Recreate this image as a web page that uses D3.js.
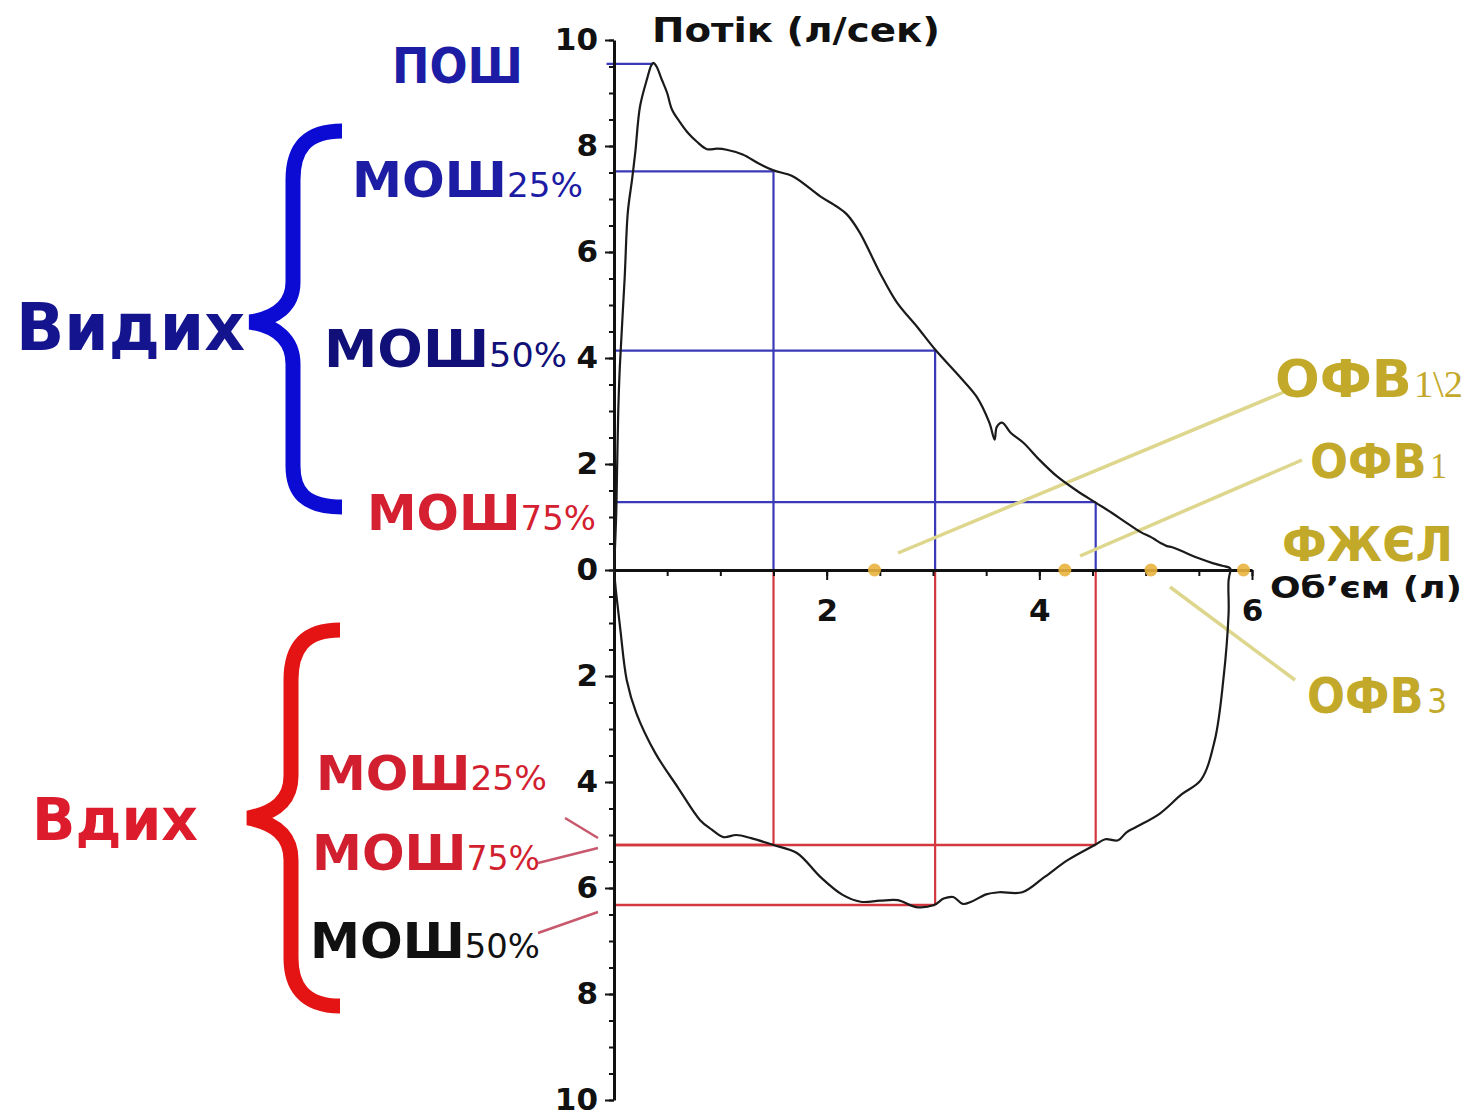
<!DOCTYPE html>
<html>
<head>
<meta charset="utf-8">
<script src="https://cdn.jsdelivr.net/npm/d3@7"></script>
<style>
body { margin: 0; background: #fff; }
svg text { font-family: "DejaVu Sans", Verdana, sans-serif; }
</style>
</head>
<body>
<div class="chart"></div>
<script>
var w = 1470;
var h = 1118;

// expiration (flow > 0), volume in l, flow in l/s
var expVolume = [0, 0.02, 0.03, 0.04, 0.055, 0.1, 0.13, 0.17, 0.2, 0.245, 0.31, 0.35, 0.37, 0.4, 0.45, 0.5, 0.545, 0.62, 0.69, 0.78, 0.875, 0.97, 1.06, 1.21, 1.37, 1.5, 1.68, 1.94, 2.1, 2.19, 2.31, 2.5, 2.66, 2.85, 3.02, 3.25, 3.41, 3.53, 3.58, 3.6, 3.65, 3.73, 3.85, 4.0, 4.17, 4.35, 4.53, 4.68, 4.82, 4.95, 5.05, 5.1, 5.14, 5.2, 5.25, 5.38, 5.5, 5.63, 5.72, 5.79, 5.8];
var expFlow   = [0, 1.0, 2.0, 3.0, 3.84, 5.5, 6.75, 7.37, 7.88, 8.75, 9.26, 9.52, 9.57, 9.5, 9.25, 9.0, 8.69, 8.45, 8.26, 8.08, 7.94, 7.95, 7.93, 7.84, 7.66, 7.54, 7.43, 7.05, 6.85, 6.71, 6.37, 5.61, 5.05, 4.59, 4.16, 3.65, 3.27, 2.78, 2.46, 2.7, 2.78, 2.59, 2.4, 2.08, 1.76, 1.5, 1.27, 1.08, 0.89, 0.72, 0.62, 0.56, 0.51, 0.45, 0.43, 0.32, 0.22, 0.13, 0.08, 0.04, 0];

// inspiration (flow < 0)
var inspVolume = [0, 0.02, 0.06, 0.12, 0.21, 0.39, 0.6, 0.81, 0.92, 1.03, 1.15, 1.29, 1.5, 1.72, 1.94, 2.15, 2.32, 2.5, 2.67, 2.84, 3.01, 3.1, 3.19, 3.28, 3.36, 3.5, 3.62, 3.84, 4.05, 4.27, 4.52, 4.62, 4.74, 4.82, 4.91, 5.13, 5.34, 5.52, 5.65, 5.73, 5.78, 5.78, 5.8];
var inspFlow   = [0, -0.43, -1.13, -2.08, -2.7, -3.46, -4.1, -4.72, -4.9, -5.04, -5.0, -5.06, -5.19, -5.34, -5.79, -6.13, -6.26, -6.24, -6.23, -6.36, -6.32, -6.2, -6.17, -6.3, -6.26, -6.12, -6.08, -6.08, -5.79, -5.47, -5.19, -5.08, -5.1, -4.95, -4.85, -4.6, -4.23, -3.96, -3.21, -2.08, -0.81, -0.19, 0];

// MOШ 25 / 50 / 75 %
var mefVolume = [1.5, 3.02, 4.53];
var mefFlow = [7.52, 4.14, 1.28];
var mifFlow = [-5.19, -6.32, -5.19];
var pefVolume = 0.37;
var pefFlow = 9.55;

// ОФВ1\2, ОФВ1, ОФВ3, ФЖЄЛ points on volume axis
var markVolume = [2.45, 4.24, 5.05, 5.92];

var yMajor = [-10, -8, -6, -4, -2, 0, 2, 4, 6, 8, 10];
var xMajor = [2, 4, 6];

var x = d3.scaleLinear().domain([0, 6]).range([614, 1252]);
var y = d3.scaleLinear().domain([10, -10]).range([40, 1100]);

var svg = d3.select(".chart")
            .append("svg")
            .attr("width", w)
            .attr("height", h);

var blue = "#3a3ab8";
var red = "#d4383e";
var olive = "#c3a92a";

// parts: [text, size, weight, family, dx]
function label(tx, ty, parts, width, color) {
    var t = svg.append("text")
        .attr("x", tx)
        .attr("y", ty)
        .attr("fill", color);
    parts.forEach(function(p) {
        var s = t.append("tspan")
            .style("font-size", p[1] + "px")
            .style("font-weight", p[2] || "bold")
            .text(p[0]);
        if (p[3]) s.style("font-family", p[3]);
        if (p[4]) s.attr("dx", p[4]);
    });
    if (width) t.attr("textLength", width).attr("lengthAdjust", "spacingAndGlyphs");
    return t;
}

// guide lines (blue = expiration, red = inspiration)
mefVolume.forEach(function(v, i) {
    svg.append("line")
        .attr("x1", x(0)).attr("x2", x(v))
        .attr("y1", y(mefFlow[i])).attr("y2", y(mefFlow[i]))
        .attr("stroke", blue).attr("stroke-width", 2.2);
    svg.append("line")
        .attr("x1", x(v)).attr("x2", x(v))
        .attr("y1", y(mefFlow[i])).attr("y2", y(0))
        .attr("stroke", blue).attr("stroke-width", 2.2);
    svg.append("line")
        .attr("x1", x(v)).attr("x2", x(v))
        .attr("y1", y(0)).attr("y2", y(mifFlow[i]))
        .attr("stroke", red).attr("stroke-width", 2.2);
    svg.append("line")
        .attr("x1", x(0)).attr("x2", x(v))
        .attr("y1", y(mifFlow[i])).attr("y2", y(mifFlow[i]))
        .attr("stroke", red).attr("stroke-width", 2.6);
});
svg.append("line")
    .attr("x1", x(-0.07)).attr("x2", x(pefVolume))
    .attr("y1", y(pefFlow)).attr("y2", y(pefFlow))
    .attr("stroke", blue).attr("stroke-width", 2.2);

// leader lines for right labels
var leaders = [[898, 553, 1284, 392], [1080, 556, 1302, 460], [1170, 587, 1295, 680]];
leaders.forEach(function(d) {
    svg.append("line")
        .attr("x1", d[0]).attr("y1", d[1]).attr("x2", d[2]).attr("y2", d[3])
        .attr("stroke", "#ddd68c").attr("stroke-width", 3.5);
});
// pink leaders for inspiratory labels
var pinkLeaders = [[565, 818, 598, 838], [538, 863, 598, 848], [538, 933, 598, 912]];
pinkLeaders.forEach(function(d) {
    svg.append("line")
        .attr("x1", d[0]).attr("y1", d[1]).attr("x2", d[2]).attr("y2", d[3])
        .attr("stroke", "#c8586c").attr("stroke-width", 2.5);
});

// axes
var yMinor = d3.axisLeft(y).tickValues(d3.range(-10, 10.01, 0.5)).tickSize(5).tickFormat("").tickSizeOuter(0);
var yAxis = d3.axisLeft(y).tickValues(yMajor).tickSize(9).tickPadding(7).tickSizeOuter(0)
              .tickFormat(function(d) { return Math.abs(d); });
var xMinor = d3.axisBottom(x).tickValues(d3.range(0.5, 6.01, 0.5)).tickSize(6).tickFormat("").tickSizeOuter(0);
var xAxis = d3.axisBottom(x).tickValues(xMajor).tickSize(10).tickPadding(19).tickSizeOuter(0)
              .tickFormat(d3.format("d"));

var gy1 = svg.append("g").attr("transform", "translate(" + x(0) + ",0)").call(yMinor);
gy1.select(".domain").remove();
var gy = svg.append("g").attr("transform", "translate(" + x(0) + ",0)").call(yAxis);
var gx1 = svg.append("g").attr("transform", "translate(0," + y(0) + ")").call(xMinor);
gx1.select(".domain").remove();
var gx = svg.append("g").attr("transform", "translate(0," + y(0) + ")").call(xAxis);

svg.selectAll(".domain").attr("stroke", "#111").attr("stroke-width", 3);
svg.selectAll(".tick line").attr("stroke", "#111").attr("stroke-width", 2);
svg.selectAll(".tick text")
    .attr("fill", "#111")
    .style("font-size", "31px")
    .style("font-weight", "bold")
    .style("font-family", "'DejaVu Sans', sans-serif");

// flow-volume loop
var line = d3.line()
             .curve(d3.curveCatmullRom.alpha(0.5))
             .x(function(d) { return x(d[0]); })
             .y(function(d) { return y(d[1]); });

svg.append("path")
    .datum(d3.zip(expVolume, expFlow))
    .attr("d", line)
    .attr("fill", "none")
    .attr("stroke", "#1a1a1a")
    .attr("stroke-width", 2.2)
    .attr("stroke-linejoin", "round");
svg.append("path")
    .datum(d3.zip(inspVolume, inspFlow))
    .attr("d", line)
    .attr("fill", "none")
    .attr("stroke", "#1a1a1a")
    .attr("stroke-width", 2.2)
    .attr("stroke-linejoin", "round");

// volume markers
svg.selectAll("circle.mark")
    .data(markVolume)
    .enter()
    .append("circle")
    .attr("class", "mark")
    .attr("cx", function(d) { return x(d); })
    .attr("cy", y(0))
    .attr("r", 6.5)
    .attr("fill", "#e9b43e")
    .attr("opacity", 0.9);

// axis titles
label(652, 42, [["Потік (л/сек)", 33]], 288, "#111");
label(1270, 598, [["Об’єм (л)", 30]], 192, "#111");

// braces
svg.append("path")
    .attr("d", "M342,131 C305,131 293,150 293,180 L293,282 C293,306 276,318 250,322 C276,326 293,340 293,364 L293,466 C293,492 305,507 342,507")
    .attr("fill", "none").attr("stroke", "#0b0bd4").attr("stroke-width", 15);
svg.append("path")
    .attr("d", "M340,630 C303,630 291,650 291,680 L291,776 C291,801 274,813 248,818 C274,823 291,835 291,860 L291,958 C291,985 303,1006 340,1006")
    .attr("fill", "none").attr("stroke", "#e41414").attr("stroke-width", 15);

// left labels
label(392, 83, [["ПОШ", 50]], 131, "#1c1ca4");
label(16, 350, [["Видих", 66]], 229, "#14148e");
label(352, 197, [["МОШ", 50], ["25%", 34, "normal"]], 231, "#1c1ca4");
label(324, 367, [["МОШ", 52], ["50%", 34, "normal"]], 243, "#101078");
label(367, 530, [["МОШ", 50], ["75%", 34, "normal"]], 229, "#d42030");

label(32, 840, [["Вдих", 58]], 166, "#dc1c2c");
label(316, 790, [["МОШ", 48], ["25%", 33, "normal"]], 231, "#d21f30");
label(312, 870, [["МОШ", 50], ["75%", 33, "normal"]], 228, "#d21f30");
label(310, 958, [["МОШ", 49], ["50%", 33, "normal"]], 230, "#111");

// right labels
label(1275, 397, [["ОФВ", 52], ["1\\2", 38, "normal", "'Liberation Serif', serif", 2]], 188, olive);
label(1310, 478, [["ОФВ", 48], ["1", 36, "normal", "'Liberation Serif', serif", 4]], 137, olive);
label(1282, 561, [["ФЖЄЛ", 48]], 171, olive);
label(1307, 713, [["ОФВ", 49], ["3", 34, "normal", null, 4]], 140, olive);
</script>
</body>
</html>
